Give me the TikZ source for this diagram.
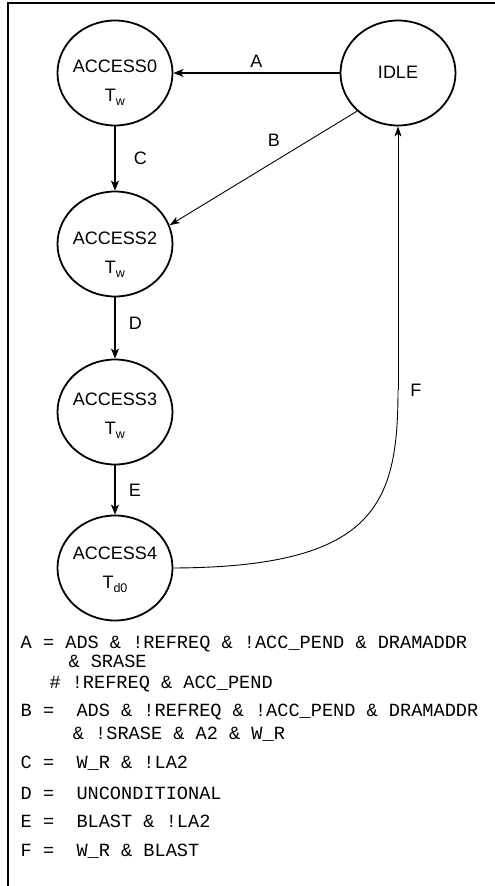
\documentclass[tikz,border=0pt]{standalone}
\usepackage{fontspec}
\setmainfont{Liberation Sans}
\setmonofont{Liberation Mono}
\usetikzlibrary{calc,arrows.meta,shapes.geometric}
\newcommand{\lowsub}[1]{\raisebox{-3.3pt}{\fontsize{12.5}{12}\selectfont #1}}
\tikzset{
  state/.style={ellipse, draw, line width=1.8pt, minimum width=115pt, minimum height=105pt, inner sep=0pt},
  statetext/.style={anchor=north, align=center, inner sep=0pt, font=\fontsize{18}{29}\selectfont},
  trans/.style={line width=1.6pt, -{Stealth[length=10pt,width=8pt,inset=2.5pt]}},
  thintrans/.style={line width=0.9pt, -{Stealth[length=10pt,width=7pt,inset=2.5pt]}},
  lbl/.style={inner sep=0pt, font=\fontsize{18}{20}\selectfont},
  eqn/.style={anchor=base west, inner sep=0pt, font=\ttfamily\fontsize{18.6}{20}\selectfont}
}

\begin{document}
\begin{tikzpicture}[x=1pt,y=-1pt] % pixel units, y runs down
	\useasboundingbox (0,0) rectangle (495,886);
	% frame (cut at right and bottom)
	\draw[line width=2pt] (495,3) -- (7.5,3) -- (7.5,886);

	% states
	\node[state] (idle) at (398,73) {};
	\node[lbl] (idlet) at (398,72.5) {IDLE};
	\node[state] (acc0) at (115,73) {};
	\node[statetext] (acc0t) at (115,60) {ACCESS0\\T\lowsub{w}};
	\node[state] (acc2) at (115,244) {};
	\node[statetext] (acc2t) at (115,232) {ACCESS2\\T\lowsub{w}};
	\node[state] (acc3) at (115,412) {};
	\node[statetext] (acc3t) at (115,393) {ACCESS3\\T\lowsub{w}};
	\node[state] (acc4) at (115,568) {};
	\node[statetext] (acc4t) at (115,547) {ACCESS4\\T\lowsub{d0}};

	% transitions
	\draw[trans] (idle) -- node[lbl, above=5pt] (la) {A} (acc0);
	\draw[thintrans] (idle.223) -- node[lbl, midway, xshift=10.5pt, yshift=27.5pt] (lb) {B} (acc2.19);
	\draw[trans] (acc0) -- node[lbl, right=18pt] (lc) {C} (acc2);
	\draw[trans] (acc2) -- node[lbl, right=13pt, yshift=5pt] (ld) {D} (acc3);
	\draw[trans] (acc3) -- node[lbl, right=13pt] (le) {E} (acc4);
	\coordinate (fbend) at (398,390);
	\draw[line width=0.9pt] (acc4.east) .. controls (375,567) and (398,505) .. (fbend);
	\draw[thintrans] (fbend) -- node[lbl, pos=0, right=12pt] (lf) {F} (idle.south);

	% transition conditions
	\node[eqn] (eqa) at (20.5,648.3) {A = ADS \& !REFREQ \& !ACC\_PEND \& DRAMADDR};
	\node[eqn] (eqa2) at (68.3,667.3) {\& SRASE};
	\node[eqn] (eqa3) at (49.3,688.3) {\# !REFREQ \& ACC\_PEND};
	\node[eqn] (eqb) at (20.5,716.7) {B =~~ADS \& !REFREQ \& !ACC\_PEND \& DRAMADDR};
	\node[eqn] (eqb2) at (72.7,739.3) {\& !SRASE \& A2 \& W\_R};
	\node[eqn] (eqc) at (20.5,768.3) {C =~~W\_R \& !LA2};
	\node[eqn] (eqd) at (20.5,799) {D =~~UNCONDITIONAL};
	\node[eqn] (eqe) at (20.5,827.3) {E =~~BLAST \& !LA2};
	\node[eqn] (eqf) at (20.5,856) {F =~~W\_R \& BLAST};
\end{tikzpicture}
\end{document}
